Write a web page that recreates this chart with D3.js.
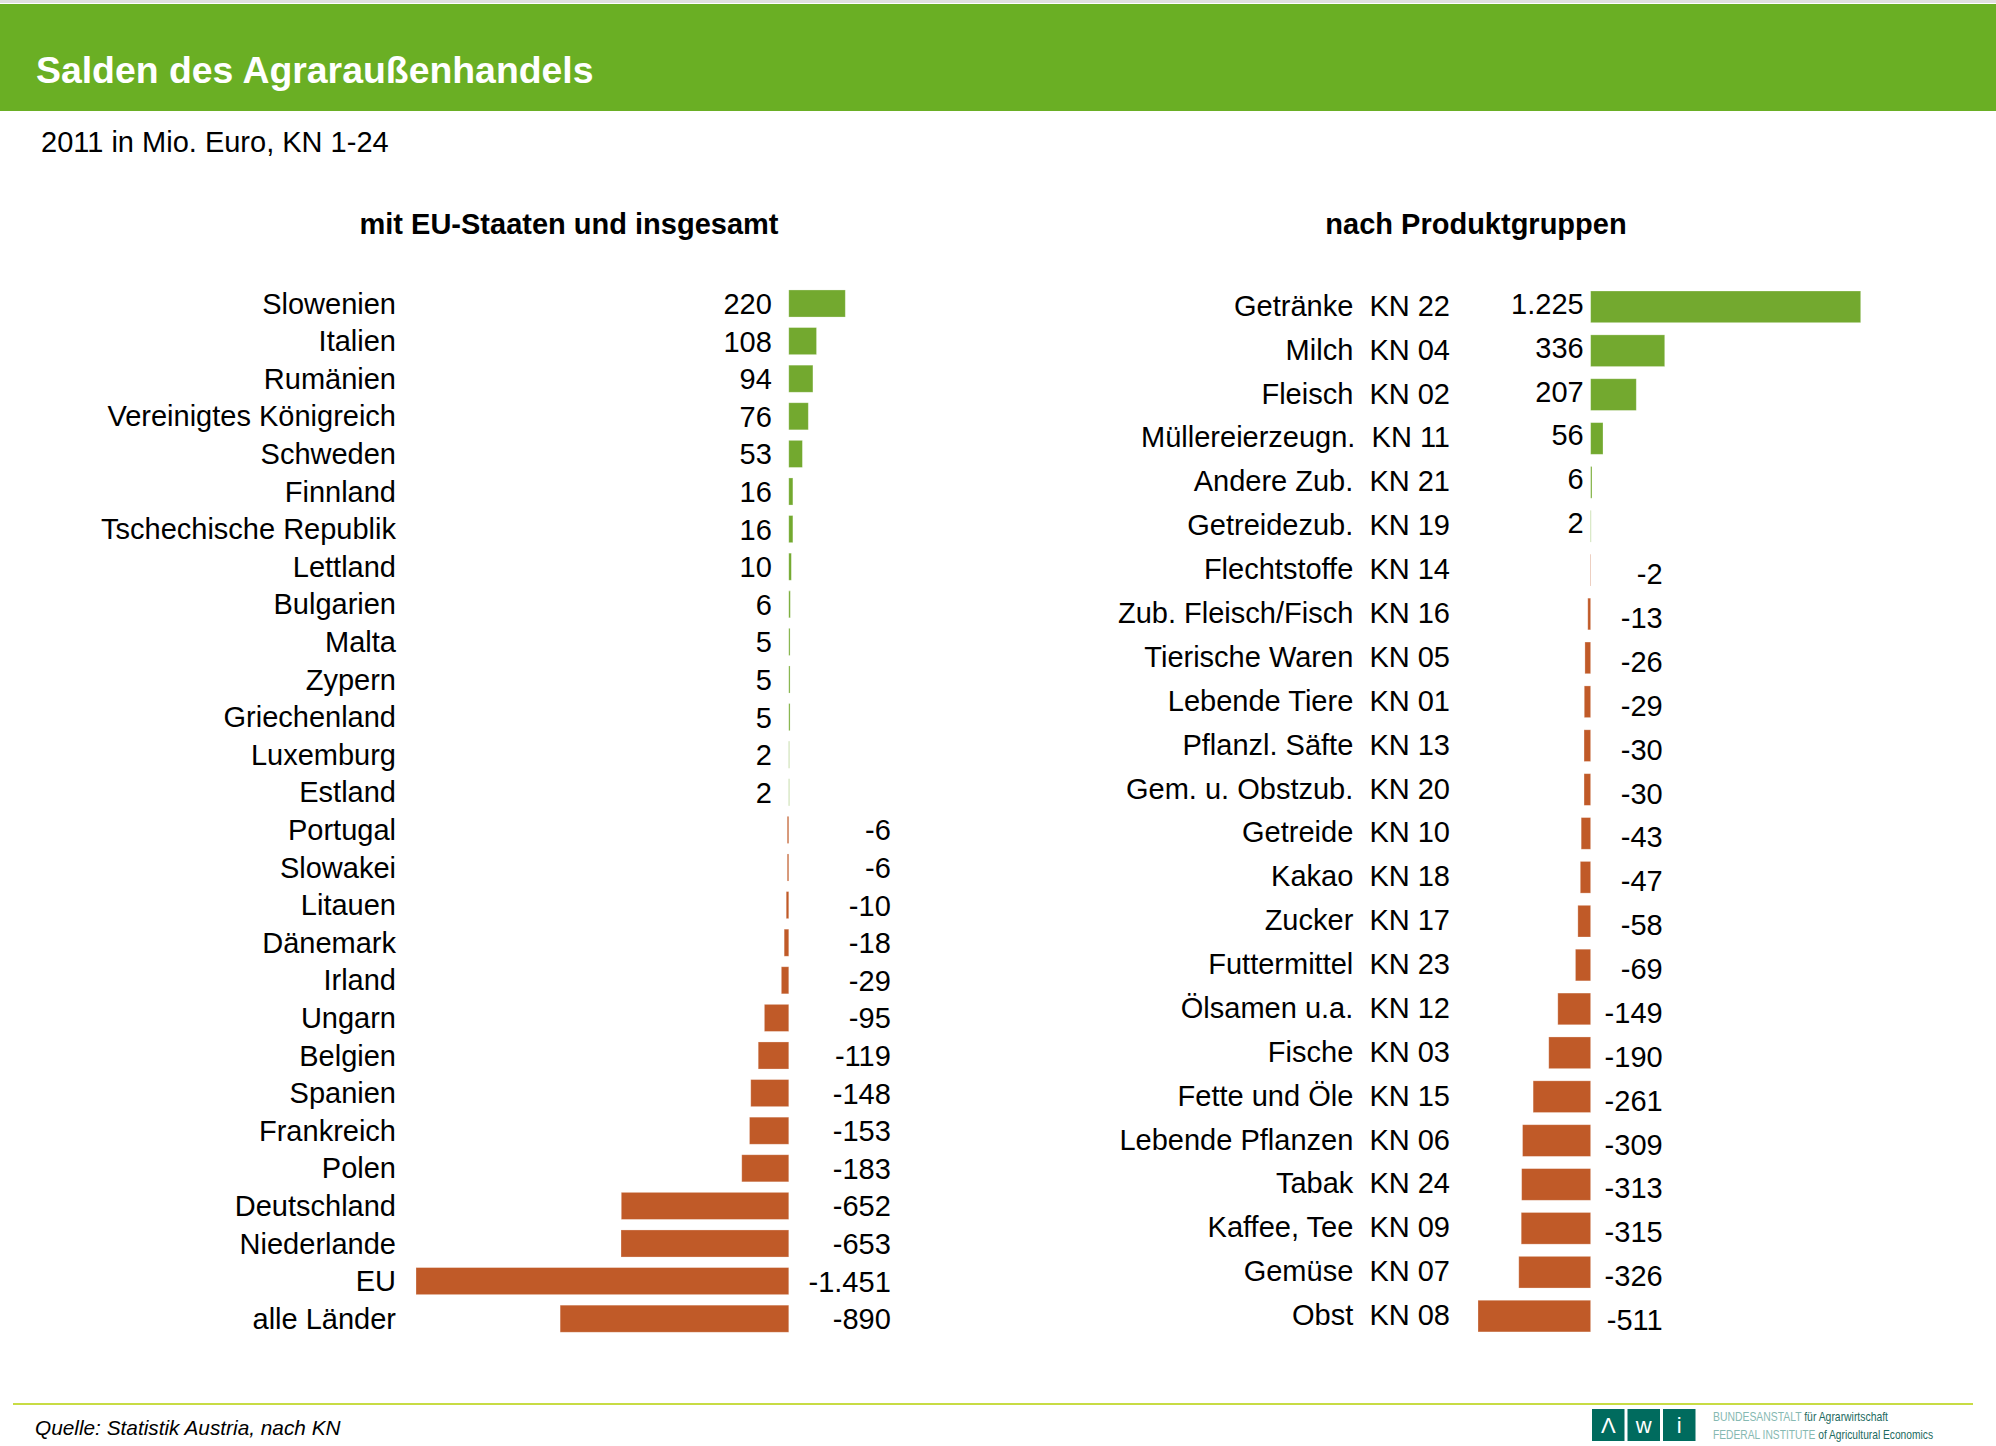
<!DOCTYPE html>
<html><head><meta charset="utf-8">
<script src="https://cdn.jsdelivr.net/npm/d3@7"></script>
<style>
body{margin:0;background:#fff;}
svg{display:block;}
text{font-family:"Liberation Sans",Arial,sans-serif;}
</style></head>
<body>
<svg id="chart" width="1996" height="1446"></svg>
<script>
// ---- data ----
const countries = ["Slowenien","Italien","Rumänien","Vereinigtes Königreich","Schweden","Finnland","Tschechische Republik","Lettland","Bulgarien","Malta","Zypern","Griechenland","Luxemburg","Estland","Portugal","Slowakei","Litauen","Dänemark","Irland","Ungarn","Belgien","Spanien","Frankreich","Polen","Deutschland","Niederlande","EU","alle Länder"];
const countryValues = [220,108,94,76,53,16,16,10,6,5,5,5,2,2,-6,-6,-10,-18,-29,-95,-119,-148,-153,-183,-652,-653,-1451,-890];

const groups = ["Getränke","Milch","Fleisch","Müllereierzeugn.","Andere Zub.","Getreidezub.","Flechtstoffe","Zub. Fleisch/Fisch","Tierische Waren","Lebende Tiere","Pflanzl. Säfte","Gem. u. Obstzub.","Getreide","Kakao","Zucker","Futtermittel","Ölsamen u.a.","Fische","Fette und Öle","Lebende Pflanzen","Tabak","Kaffee, Tee","Gemüse","Obst"];
const groupCodes = ["KN 22","KN 04","KN 02","KN 11","KN 21","KN 19","KN 14","KN 16","KN 05","KN 01","KN 13","KN 20","KN 10","KN 18","KN 17","KN 23","KN 12","KN 03","KN 15","KN 06","KN 24","KN 09","KN 07","KN 08"];
const groupValues = [1225,336,207,56,6,2,-2,-13,-26,-29,-30,-30,-43,-47,-58,-69,-149,-190,-261,-309,-313,-315,-326,-511];

const titleText = "Salden des Agraraußenhandels";
const subtitleText = "2011 in Mio. Euro, KN 1-24";
const leftTitle = "mit EU-Staaten und insgesamt";
const rightTitle = "nach Produktgruppen";
const sourceText = "Quelle: Statistik Austria, nach KN";

// ---- styling ----
const GREEN = "#73a92f", ORANGE = "#c05a28", HEADER = "#6aaf24";
const FS = 29;
const fmt = d3.formatLocale({decimal:",", thousands:".", grouping:[3], currency:["","€"], minus:"-"}).format(",d");

const svg = d3.select("#chart");

// header
svg.append("rect").attr("x",0).attr("y",0).attr("width",1996).attr("height",3).attr("fill","#e0e0e0");
svg.append("rect").attr("x",0).attr("y",4).attr("width",1996).attr("height",107).attr("fill",HEADER);
svg.append("text").attr("x",36).attr("y",83).attr("fill","#fff").attr("font-size",37.4).attr("font-weight","bold").text(titleText);
svg.append("text").attr("x",41).attr("y",152).attr("fill","#000").attr("font-size",29).text(subtitleText);

svg.append("text").attr("x",569).attr("y",234).attr("text-anchor","middle").attr("font-size",29).attr("font-weight","bold").text(leftTitle);
svg.append("text").attr("x",1476).attr("y",234).attr("text-anchor","middle").attr("font-size",29).attr("font-weight","bold").text(rightTitle);

// ---- left chart ----
const leftData = countries.map((c,i)=>({name:c, value:countryValues[i]}));
const xL = d3.scaleLinear().domain([d3.min(countryValues), d3.max(countryValues)]).range([416, 845.3]);
const yL = d3.scaleBand().domain(countries).range([284.7, 284.7 + 28*37.6]).paddingInner(0.28).paddingOuter(0.14);

const gL = svg.append("g");
gL.selectAll("rect").data(leftData).join("rect")
  .attr("x", d => xL(Math.min(0,d.value)))
  .attr("y", d => yL(d.name))
  .attr("width", d => Math.abs(xL(d.value) - xL(0)))
  .attr("height", yL.bandwidth())
  .attr("fill", d => d.value >= 0 ? GREEN : ORANGE)
  .attr("stroke", "#fff").attr("stroke-opacity",0.35).attr("stroke-width",0.8);

gL.selectAll("text.cat").data(leftData).join("text").attr("class","cat")
  .attr("x", 396)
  .attr("y", d => yL(d.name) + yL.bandwidth()/2 + 10)
  .attr("text-anchor","end").attr("font-size",FS)
  .text(d => d.name);

gL.selectAll("text.val").data(leftData).join("text").attr("class","val")
  .attr("x", d => d.value >= 0 ? xL(0) - 17 : xL(0) + 102)
  .attr("y", d => yL(d.name) + yL.bandwidth()/2 + 10.5)
  .attr("text-anchor","end").attr("font-size",FS)
  .text(d => fmt(d.value));

// ---- right chart ----
const rightData = groups.map((g,i)=>({name:g, code:groupCodes[i], value:groupValues[i]}));
const xR = d3.scaleLinear().domain([d3.min(groupValues), d3.max(groupValues)]).range([1478, 1860.7]);
const yR = d3.scaleBand().domain(groups).range([284.9, 284.9 + 24*43.88]).paddingInner(0.278).paddingOuter(0.139);

const gR = svg.append("g");
gR.selectAll("rect").data(rightData).join("rect")
  .attr("x", d => xR(Math.min(0,d.value)))
  .attr("y", d => yR(d.name))
  .attr("width", d => Math.abs(xR(d.value) - xR(0)))
  .attr("height", yR.bandwidth())
  .attr("fill", d => d.value >= 0 ? GREEN : ORANGE)
  .attr("stroke", "#fff").attr("stroke-opacity",0.35).attr("stroke-width",0.8);

gR.selectAll("text.cat").data(rightData).join("text").attr("class","cat")
  .attr("x", 1450)
  .attr("y", d => yR(d.name) + yR.bandwidth()/2 + 9)
  .attr("text-anchor","end").attr("font-size",FS)
  .style("white-space","pre")
  .text(d => d.name + "  " + d.code);

gR.selectAll("text.val").data(rightData).join("text").attr("class","val")
  .attr("x", d => d.value >= 0 ? xR(0) - 7 : xR(0) + 72)
  .attr("y", d => yR(d.name) + yR.bandwidth()/2 + (d.value >= 0 ? 7 : 14))
  .attr("text-anchor","end").attr("font-size",FS)
  .text(d => fmt(d.value));

// ---- footer ----
svg.append("line").attr("x1",13).attr("x2",1973).attr("y1",1404).attr("y2",1404).attr("stroke","#c8dc44").attr("stroke-width",2);
svg.append("text").attr("x",35).attr("y",1435).attr("font-size",20.8).attr("font-style","italic").text(sourceText);

const logo = svg.append("g");
const boxes = [{x:1592,t:"Λ"},{x:1627.5,t:"w"},{x:1663,t:"i"}];
logo.selectAll("rect").data(boxes).join("rect")
  .attr("x",d=>d.x).attr("y",1409).attr("width",32.5).attr("height",32).attr("fill","#006b5e");
logo.selectAll("text").data(boxes).join("text")
  .attr("x",d=>d.x+16.25).attr("y",1433).attr("text-anchor","middle")
  .attr("fill","#fff").attr("font-size",22).attr("font-family","'DejaVu Sans',sans-serif").attr("font-weight","300")
  .text(d=>d.t);

const l1 = svg.append("text").attr("x",1713).attr("y",1421).attr("font-size",13)
  .attr("font-family","'DejaVu Sans Condensed','Liberation Sans Narrow',sans-serif")
  .attr("textLength",175).attr("lengthAdjust","spacingAndGlyphs");
l1.append("tspan").attr("fill","#86b9b2").text("BUNDESANSTALT ");
l1.append("tspan").attr("fill","#1c6a60").text("für Agrarwirtschaft");
const l2 = svg.append("text").attr("x",1713).attr("y",1439).attr("font-size",13)
  .attr("font-family","'DejaVu Sans Condensed','Liberation Sans Narrow',sans-serif")
  .attr("textLength",220).attr("lengthAdjust","spacingAndGlyphs");
l2.append("tspan").attr("fill","#86b9b2").text("FEDERAL INSTITUTE ");
l2.append("tspan").attr("fill","#1c6a60").text("of Agricultural Economics");
</script>
</body></html>
